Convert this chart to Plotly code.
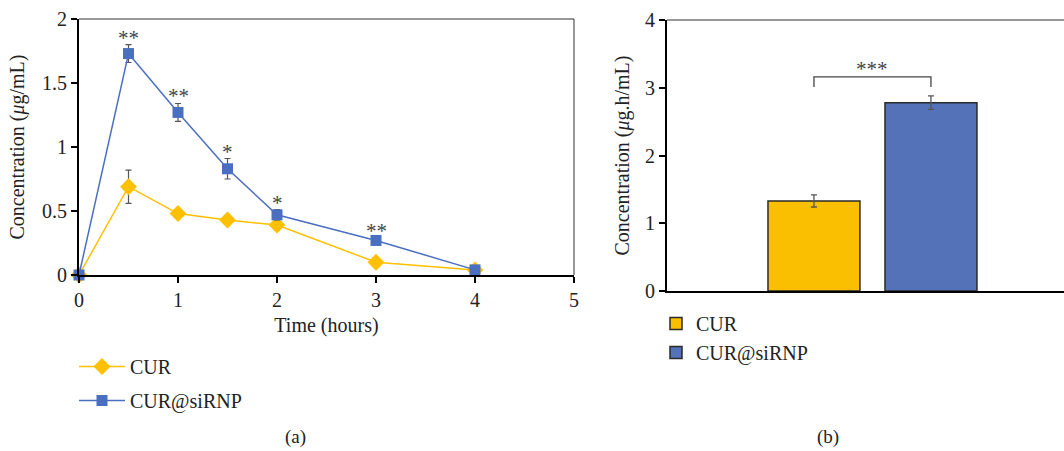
import plotly.graph_objects as go

# ---------------- data ----------------
time_h = [0, 0.5, 1, 1.5, 2, 3, 4]
cur_conc = [0, 0.69, 0.48, 0.43, 0.39, 0.10, 0.04]
cur_err = [0, 0.13, 0.03, 0.03, 0.04, 0.02, 0.0]
sirnp_conc = [0, 1.73, 1.27, 0.83, 0.47, 0.27, 0.04]
sirnp_err = [0, 0.07, 0.07, 0.08, 0.04, 0.02, 0.0]
sig_marks = ["", "**", "**", "*", "*", "**", ""]

auc_groups = ["CUR", "CUR@siRNP"]
auc_values = [1.33, 2.78]
auc_err = [0.09, 0.10]
auc_sig = "***"

x_ticks_a = [0, 1, 2, 3, 4, 5]
y_ticks_a = [0, 0.5, 1, 1.5, 2]
y_ticklabels_a = ["0", "0.5", "1", "1.5", "2"]
y_ticks_b = [0, 1, 2, 3, 4]

# ---------------- style ----------------
YELLOW = "#FFC000"
BLUE = "#4A6FC0"
BAR_YELLOW = "#F9BF00"
BAR_BLUE = "#5372B8"
ERR = "#555555"
FONT = "Liberation Serif"
FS = 20
W, H = 1064, 451

fig = go.Figure()

fig.add_trace(go.Scatter(
    x=time_h, y=cur_conc, name="CUR", mode="lines+markers",
    line=dict(color=YELLOW, width=1.5),
    marker=dict(symbol="diamond", size=13, color=YELLOW),
    error_y=dict(type="data", array=cur_err, color=ERR, thickness=1.2, width=3),
    xaxis="x", yaxis="y", legend="legend", legendgroup="a1", cliponaxis=False,
))
fig.add_trace(go.Scatter(
    x=time_h, y=sirnp_conc, name="CUR@siRNP", mode="lines+markers",
    line=dict(color=BLUE, width=1.5),
    marker=dict(symbol="square", size=11, color=BLUE),
    error_y=dict(type="data", array=sirnp_err, color=ERR, thickness=1.2, width=3),
    xaxis="x", yaxis="y", legend="legend", legendgroup="a2", cliponaxis=False,
))

bar_colors = [BAR_YELLOW, BAR_BLUE]
for i, g in enumerate(auc_groups):
    fig.add_trace(go.Bar(
        x=[i], y=[auc_values[i]], name=g, width=0.786,
        marker=dict(color=bar_colors[i], line=dict(color="#2a2a2a", width=1.5)),
        error_y=dict(type="data", array=[auc_err[i]], color=ERR, thickness=1.3, width=3),
        xaxis="x2", yaxis="y2", legend="legend2", legendgroup="b%d" % i,
    ))

annotations = []
for t, v, e, s in zip(time_h, sirnp_conc, sirnp_err, sig_marks):
    if s:
        annotations.append(dict(x=t, y=v + e, xref="x", yref="y", text=s, showarrow=False,
                                yanchor="bottom", yshift=-7,
                                font=dict(family=FONT, size=21, color="#444")))

top_b = max(a + e for a, e in zip(auc_values, auc_err))
bracket_y = top_b + 0.28
annotations.append(dict(x=0.5, y=bracket_y, xref="x2", yref="y2", text=auc_sig, showarrow=False,
                        yanchor="bottom", yshift=-6, font=dict(family=FONT, size=21, color="#444")))
annotations.append(dict(x=283 / W, y=1 - 437 / H, xref="paper", yref="paper", text="(a)",
                        showarrow=False, font=dict(family=FONT, size=FS - 1, color="#222"),
                        yanchor="middle"))
annotations.append(dict(x=841 / W, y=1 - 437 / H, xref="paper", yref="paper", text="(b)",
                        showarrow=False, font=dict(family=FONT, size=FS - 1, color="#222"),
                        yanchor="middle"))

shapes = [
    dict(type="line", xref="x domain", yref="y domain", x0=0, x1=1, y0=1, y1=1,
         line=dict(color="#333", width=1)),
    dict(type="line", xref="x domain", yref="y domain", x0=1, x1=1, y0=0, y1=1,
         line=dict(color="#333", width=1)),
    dict(type="line", xref="x2 domain", yref="y2 domain", x0=0, x1=1, y0=1, y1=1,
         line=dict(color="#333", width=1)),
    dict(type="path", xref="x2", yref="y2",
         path="M 0,%f L 0,%f L 1,%f L 1,%f" % (bracket_y - 0.15, bracket_y, bracket_y, bracket_y - 0.15),
         line=dict(color="#444", width=1.3)),
]

axis_common = dict(showline=True, linecolor="black", linewidth=2, ticks="outside",
                   ticklen=6, tickwidth=1.5, tickcolor="black", showgrid=False, zeroline=False,
                   automargin=False,
                   tickfont=dict(family=FONT, size=FS, color="#222"))

fig.update_layout(
    width=W, height=H, margin=dict(l=0, r=0, t=0, b=0, autoexpand=False),
    paper_bgcolor="white", plot_bgcolor="white",
    barmode="overlay",
    font=dict(family=FONT, size=FS, color="#222"),
    xaxis=dict(domain=[79 / W, 574 / W], range=[0, 5], tickvals=x_ticks_a, anchor="y",
               title=dict(text="Time (hours)", standoff=8, font=dict(family=FONT, size=FS)),
               **axis_common),
    yaxis=dict(domain=[1 - 275 / H, 1 - 19 / H], range=[0, 2], tickvals=y_ticks_a,
               ticktext=y_ticklabels_a, anchor="x",
               title=dict(text="Concentration (<i>μ</i>g/mL)", standoff=12,
                          font=dict(family=FONT, size=FS)),
               **axis_common),
    xaxis2=dict(domain=[667 / W, 1.0], range=[-1.256, 2.137], anchor="y2", automargin=False,
                showline=True, linecolor="black", linewidth=2, ticks="", showticklabels=False,
                showgrid=False, zeroline=False),
    yaxis2=dict(domain=[1 - 291 / H, 1 - 20 / H], range=[0, 4], tickvals=y_ticks_b, anchor="x2",
                title=dict(text="Concentration (<i>μ</i>g.h/mL)", standoff=10,
                           font=dict(family=FONT, size=FS)),
                **axis_common),
    legend=dict(x=74 / W, y=1 - 347 / H, xanchor="left", yanchor="top",
                bgcolor="rgba(0,0,0,0)", font=dict(family=FONT, size=FS, color="#222"),
                tracegroupgap=5, traceorder="grouped", itemwidth=46),
    legend2=dict(x=656 / W, y=1 - 304 / H, xanchor="left", yanchor="top",
                 bgcolor="rgba(0,0,0,0)", font=dict(family=FONT, size=FS, color="#222"),
                 traceorder="normal"),
    annotations=annotations,
    shapes=shapes,
    showlegend=True,
)

fig.write_html("out.html")
